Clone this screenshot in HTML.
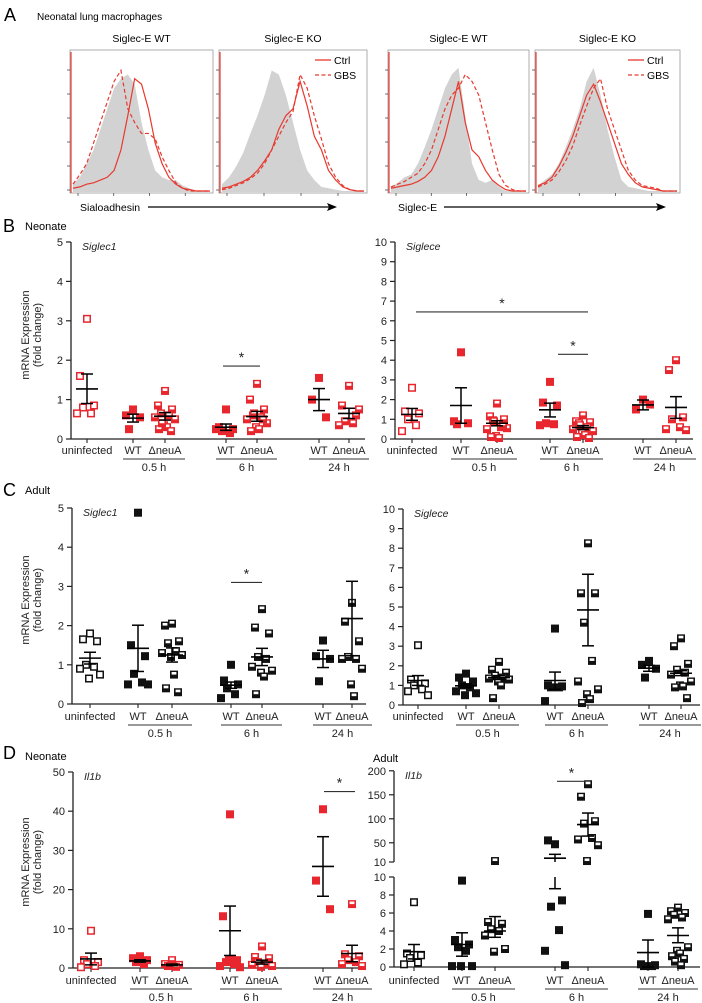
<!DOCTYPE html>
<html><head><meta charset="utf-8">
<style>
html,body{margin:0;padding:0;background:#fff;}
svg{display:block;font-family:"Liberation Sans",Arial,sans-serif;}
</style></head>
<body>
<svg id="fig" width="702" height="1003" viewBox="0 0 702 1003" xmlns="http://www.w3.org/2000/svg">
  <rect width="702" height="1003" fill="#fff"/>
  <text x="4" y="21" font-size="18">A</text>
  <text x="37" y="20" font-size="10">Neonatal lung macrophages</text>
  <text x="3" y="232" font-size="18">B</text>
  <text x="25" y="230" font-size="11">Neonate</text>
  <text x="3" y="496" font-size="18">C</text>
  <text x="25" y="494" font-size="11">Adult</text>
  <text x="3" y="759" font-size="18">D</text>
  <text x="25" y="760" font-size="11">Neonate</text>
  <text x="373" y="762" font-size="11">Adult</text>
  <g id="layer"></g>
</svg>
<script>
const histNames = ['siglec-e-wt-sialoadhesin','siglec-e-ko-sialoadhesin','siglec-e-wt-siglece','siglec-e-ko-siglece'];
const histTitles = ['Siglec-E WT','Siglec-E KO','Siglec-E WT','Siglec-E KO'];
const histGray = [
 [0.05,0.1,0.2,0.3,0.45,0.6,0.75,0.82,0.85,0.78,0.5,0.3,0.15,0.1,0.08,0.08,0.04,0.02,0,0,0],
 [0.05,0.1,0.18,0.28,0.42,0.55,0.7,0.88,0.85,0.7,0.5,0.3,0.15,0.08,0.03,0.02,0.01,0,0,0,0],
 [0.03,0.06,0.1,0.12,0.2,0.32,0.45,0.6,0.75,0.85,0.9,0.55,0.2,0.08,0.06,0.08,0.03,0,0,0,0],
 [0.04,0.08,0.12,0.2,0.32,0.45,0.6,0.8,0.9,0.7,0.45,0.25,0.08,0.03,0.02,0.01,0,0,0,0,0]];
const histCtrl = [
 [0.02,0.03,0.05,0.06,0.08,0.1,0.15,0.3,0.55,0.82,0.78,0.6,0.35,0.2,0.1,0.05,0.02,0.01,0,0,0],
 [0.02,0.03,0.05,0.07,0.1,0.15,0.22,0.3,0.45,0.55,0.6,0.8,0.62,0.4,0.3,0.15,0.08,0.03,0.01,0,0],
 [0.02,0.03,0.04,0.05,0.07,0.1,0.15,0.25,0.4,0.6,0.8,0.5,0.3,0.25,0.15,0.08,0.04,0.01,0,0,0],
 [0.04,0.06,0.1,0.18,0.28,0.4,0.55,0.7,0.78,0.65,0.5,0.35,0.2,0.12,0.06,0.03,0.02,0.01,0,0,0]];
const histGBS = [
 [0.05,0.12,0.2,0.35,0.5,0.65,0.8,0.88,0.6,0.5,0.42,0.42,0.38,0.25,0.15,0.06,0.02,0,0,0,0],
 [0.01,0.02,0.04,0.06,0.09,0.13,0.2,0.3,0.4,0.5,0.58,0.85,0.75,0.55,0.38,0.2,0.1,0.04,0.01,0,0],
 [0.03,0.05,0.07,0.1,0.13,0.2,0.3,0.45,0.6,0.7,0.75,0.85,0.8,0.7,0.5,0.3,0.12,0.04,0.01,0,0],
 [0.03,0.05,0.08,0.14,0.22,0.33,0.48,0.62,0.75,0.82,0.6,0.45,0.3,0.15,0.08,0.04,0.03,0.02,0,0,0]];

const categories = ['uninfected','WT','ΔneuA','WT','ΔneuA','WT','ΔneuA'];
const timeLabels = ['0.5 h','6 h','24 h'];

const bL_values = [[3.05,1.6,0.85,0.8,0.65,0.65],[0.75,0.6,0.55,0.25],[1.22,0.85,0.75,0.65,0.6,0.55,0.5,0.35,0.3,0.25,0.2,0.4],[0.75,0.3,0.25,0.2,0.15,0.25],[1.4,1.0,0.75,0.6,0.55,0.5,0.4,0.3,0.25,0.2,0.5,0.65],[1.55,1.0,0.55],[1.35,0.85,0.6,0.45,0.4,0.35,0.75]];
const bL_mean = [1.27,0.53,0.58,0.3,0.57,1.0,0.65];
const bL_lo = [0.9,0.43,0.48,0.22,0.45,0.72,0.52];
const bL_hi = [1.65,0.63,0.67,0.38,0.7,1.28,0.78];
const bL_ticks = [0,1,2,3,4,5];

const bR_values = [[2.6,1.4,1.3,1.0,0.7,0.4],[4.4,0.9,0.8,0.75],[1.8,1.15,1.0,0.95,0.6,0.5,0.55,0.15,0.05,0.1,0.7,0.9],[2.9,1.85,1.7,0.8,0.75,0.7],[1.2,0.9,0.85,0.8,0.6,0.5,0.4,0.3,0.2,0.1,0.05,0.7],[2.0,1.5,1.75],[4.0,3.5,1.1,1.0,0.6,0.5,0.45]];
const bR_mean = [1.25,1.7,0.8,1.48,0.58,1.73,1.6];
const bR_lo = [0.95,0.8,0.67,1.12,0.48,1.48,1.05];
const bR_hi = [1.55,2.6,0.93,1.82,0.68,1.98,2.15];
const bR_ticks = [0,1,2,3,4,5,6,7,8,9,10];

const cL_values = [[1.8,1.65,1.6,1.0,0.95,0.9,0.75,0.65],[4.88,1.5,1.22,0.77,0.55,0.5,0.5],[2.05,2.0,1.6,1.55,1.35,1.3,1.25,1.2,0.75,0.4,0.3],[1.0,0.6,0.5,0.4,0.25,0.15],[2.42,1.95,1.8,1.2,1.15,0.95,0.85,0.8,0.7,0.25],[1.62,1.22,1.15,0.58],[2.58,2.1,1.6,1.2,1.15,1.15,0.9,0.5,0.2]];
const cL_mean = [1.17,1.42,1.25,0.48,1.2,1.15,2.18];
const cL_lo = [1.02,0.83,1.07,0.4,0.98,0.93,1.23];
const cL_hi = [1.32,2.01,1.43,0.56,1.42,1.37,3.13];
const cL_ticks = [0,1,2,3,4,5];

const cR_values = [[3.05,1.3,1.1,1.0,0.8,0.7,0.5],[1.6,1.4,1.2,1.0,0.9,0.7,0.6,0.5],[2.2,1.8,1.65,1.5,1.4,1.35,1.3,1.2,1.0,0.35],[3.9,1.0,0.95,0.9,0.9,0.2],[8.25,5.7,5.7,4.2,2.25,1.2,0.8,0.55,0.3,0.1],[2.25,2.05,1.85,1.4],[3.4,3.0,2.1,1.8,1.65,1.55,1.2,1.0,0.95,0.9,0.35]];
const cR_mean = [1.25,0.98,1.4,1.25,4.85,1.88,1.62];
const cR_lo = [1.0,0.88,1.3,0.8,3.02,1.72,1.5];
const cR_hi = [1.5,1.08,1.5,1.68,6.67,2.02,1.75];
const cR_ticks = [0,1,2,3,4,5,6,7,8,9,10];

const dL_values = [[9.5,2.0,1.5,1.0,0.5,0.2],[3.0,2.5,2.0,1.5,1.0],[2.0,1.0,0.8,0.5,0.3],[39.2,13.2,2.0,1.5,1.0,0.5,0.2,2.2],[5.5,2.8,2.5,1.5,1.0,0.8,0.5,0.3],[40.5,22.3,15.0],[16.3,3.5,3.0,2.0,1.5,1.0,0.5]];
const dL_mean = [2.3,1.8,0.8,9.5,1.5,25.9,3.7];
const dL_lo = [0.8,1.5,0.6,3.2,1.0,18.3,1.6];
const dL_hi = [3.8,2.1,1.0,15.8,2.0,33.5,5.8];
const dL_ticks = [0,10,20,30,40,50];

const dR_values = [[7.2,1.5,1.3,1.0,0.5,0.3],[9.6,3.0,2.5,2.2,1.8,0.1,0.1,0.1],[12,5.0,4.8,4.2,4.0,3.5,2.0,1.7],[47,55,7.4,6.7,4.1,1.8,0.2],[172,146,95,90,60,57,45,12],[5.9,0.3,0.2,0.1,0.1],[6.6,6.2,6.0,5.8,5.5,5.3,2.2,1.8,1.5,1.2,0.9,0.6,0.2]];
const dR_mean = [1.7,2.5,4.0,18,88,1.6,3.5];
const dR_lo = [0.9,1.2,3.3,8.7,64,0,2.7];
const dR_hi = [2.5,3.8,5.6,26,112,3.0,4.35];
const dR_ticksLow = [0,2,4,6,8,10];
const dR_ticksHigh = [10,50,100,150,200];

const NS='http://www.w3.org/2000/svg';
const layer=document.getElementById('layer');
function mk(tag,attrs,parent){const e=document.createElementNS(NS,tag);for(const k in attrs)e.setAttribute(k,attrs[k]);(parent||layer).appendChild(e);return e;}
function txt(s,attrs,parent){const e=mk('text',attrs,parent);e.textContent=s;return e;}

const boxes=[[70,213],[219,367],[388,529],[535,680]];
const boxTop=50, boxBot=193;
boxes.forEach((b,i)=>{
  const g=mk('g',{});
  
  
  const x0=b[0], w=b[1]-b[0];
  const t=txt(histTitles[i],{x:x0+w/2,y:42,'font-size':10.5,'text-anchor':'middle'},g);
  
  
  const xAt=k=>x0+3+k*(w-6)/20;
  const yAt=v=>boxBot-2-v*(boxBot-boxTop-6);
  let d='M'+xAt(0)+','+(boxBot-1);
  histGray[i].forEach((v,k)=>{d+=' L'+xAt(k)+','+yAt(v);});
  d+=' L'+xAt(20)+','+(boxBot-1)+' Z';
  const gp=mk('path',{d:d,fill:'#d2d2d2',stroke:'none'},g);
  
  
  const line=(arr,dash,name)=>{
    const pts=arr.map((v,k)=>xAt(k)+','+yAt(v)).join(' ');
    const p=mk('polyline',{points:pts,fill:'none',stroke:'#e8392f','stroke-width':1.2,'stroke-dasharray':dash},g);
    
    
  };
  line(histCtrl[i],'none','ctrl-histogram');
  line(histGBS[i],'4,2.5','gbs-histogram');
  const r=mk('rect',{x:x0,y:boxTop,width:w,height:boxBot-boxTop,fill:'none',stroke:'#9a9a9a','stroke-width':0.8},g);
  
  
  mk('line',{x1:x0+1,y1:boxTop+2,x2:x0+1,y2:boxBot,stroke:'#e8392f','stroke-width':1.2},g);
  for(let k=0;k<6;k++){mk('line',{x1:x0-3,x2:x0,y1:boxBot-3-k*24,y2:boxBot-3-k*24,stroke:'#333','stroke-width':0.7},g);}
  for(let k=0;k<4;k++){mk('line',{x1:x0+8+k*w/4,x2:x0+8+k*w/4,y1:boxBot,y2:boxBot+3,stroke:'#333','stroke-width':0.7},g);}
  if(i===1||i===3){
    const lg=mk('g',{},g);
    
    
    const lx=b[1]-52;
    mk('line',{x1:lx,x2:lx+16,y1:60,y2:60,stroke:'#e8392f','stroke-width':1.3},lg);
    txt('Ctrl',{x:lx+19,y:64,'font-size':10.5},lg);
    mk('line',{x1:lx,x2:lx+16,y1:75,y2:75,stroke:'#e8392f','stroke-width':1.3,'stroke-dasharray':'4,2.5'},lg);
    txt('GBS',{x:lx+19,y:79,'font-size':10.5},lg);
  }
});
function arrow(x1,x2,y,label,lx,name){
  const g=mk('g',{});
  
  
  txt(label,{x:lx,y:y+4,'font-size':10.5},g);
  mk('line',{x1:x1,x2:x2-8,y1:y,y2:y,stroke:'#000','stroke-width':1.3},g);
  mk('path',{d:`M${x2},${y} L${x2-10},${y-4} L${x2-8},${y} L${x2-10},${y+4} Z`,fill:'#000'},g);
}
arrow(148,337,207,'Sialoadhesin',80,'sialoadhesin-axis-arrow');
arrow(444,666,207,'Siglec-E',398,'siglece-axis-arrow');

const RED='#e8262d', BLK='#111';
const markerTypes=['open','filled','half','filled','half','filled','half'];
const jit=[0,-7,7,-4,4,-10,10,-1,2,-6,6,-3,3,-9,9];

function drawPanel(cfg){
  const g=mk('g',{});
  
  
  const y=cfg.yScale, col=cfg.color;
  const ax=mk('g',{},g);
  
  
  cfg.axisSegs.forEach(s=>mk('line',{x1:cfg.axX,x2:cfg.axX,y1:s[0],y2:s[1],stroke:'#222','stroke-width':1.3},ax));
  cfg.ticks.forEach(t=>{
    const yy=y(t.v,t.seg);
    mk('line',{x1:cfg.axX-5,x2:cfg.axX,y1:yy,y2:yy,stroke:'#222','stroke-width':1.2},ax);
    const tl=txt(String(t.v),{x:cfg.axX-8,y:yy+4,'font-size':11,'text-anchor':'end',fill:'#222'},ax);
    
    
  });
  const xa=mk('line',{x1:cfg.axX,x2:cfg.xEnd,y1:cfg.y0,y2:cfg.y0,stroke:'#222','stroke-width':1.3},g);
  
  
  const gl=txt(cfg.gene,{x:cfg.axX+11,y:cfg.yTop+8,'font-size':10.5,'font-style':'italic',fill:'#222'},g);
  
  
  if(cfg.yTitle){
    const yt=txt('',{transform:`translate(${cfg.yTitleX},${cfg.yTitleY}) rotate(-90)`,'font-size':11,'text-anchor':'middle',fill:'#222'},g);
    
    
    const t1=mk('tspan',{x:0,y:0},yt);t1.textContent='mRNA Expression';
    const t2=mk('tspan',{x:0,y:12},yt);t2.textContent='(fold change)';
  }
  categories.forEach((c,i)=>{
    const xx=cfg.xs[i];
    mk('line',{x1:xx,x2:xx,y1:cfg.y0,y2:cfg.y0+4,stroke:'#222','stroke-width':1.1},g);
    const cl=txt(c,{x:xx,y:cfg.labY,'font-size':11,'text-anchor':'middle',fill:'#222'},g);
    
    
  });
  timeLabels.forEach((t,k)=>{
    const a=cfg.xs[1+2*k]-10, b=cfg.xs[2+2*k]+20;
    mk('line',{x1:a,x2:b,y1:cfg.labY+5,y2:cfg.labY+5,stroke:'#333','stroke-width':1.1},g);
    const tl=txt(t,{x:(a+b)/2,y:cfg.labY+17,'font-size':11,'text-anchor':'middle',fill:'#222'},g);
    
    
  });
  cfg.values.forEach((vals,gi)=>{
    const gg=mk('g',{},g);
    
    
    const type=markerTypes[gi];
    vals.forEach((v,k)=>{
      const cx=cfg.xs[gi]+jit[k%jit.length], cy=y(v);
      const s=8;
      if(type==='open'){
        const r=mk('rect',{x:cx-s/2+0.75,y:cy-s/2+0.75,width:s-1.5,height:s-1.5,fill:'#fff',stroke:col,'stroke-width':1.5},gg);
        
        
      } else if(type==='filled'){
        const r=mk('rect',{x:cx-s/2,y:cy-s/2,width:s,height:s,fill:col},gg);
        
        
      } else {
        const r=mk('rect',{x:cx-s/2,y:cy-s/2,width:s,height:s,fill:col},gg);
        
        
        mk('rect',{x:cx-s/2+1.6,y:cy-s/2+1.4,width:s-3.2,height:2.6,fill:'#fff'},gg);
      }
    });
  });
  cfg.mean.forEach((m,gi)=>{
    const eg=mk('g',{},g);
    
    
    const xx=cfg.xs[gi];
    const ym=y(m), yl=y(cfg.lo[gi]), yh=y(cfg.hi[gi]);
    mk('line',{x1:xx-11,x2:xx+11,y1:ym,y2:ym,stroke:'#000','stroke-width':1.6},eg);
    cfg.whisk(yl,yh,cfg.lo[gi],cfg.hi[gi]).forEach(s=>mk('line',{x1:xx,x2:xx,y1:s[0],y2:s[1],stroke:'#000','stroke-width':1.5},eg));
    mk('line',{x1:xx-6,x2:xx+6,y1:yl,y2:yl,stroke:'#000','stroke-width':1.5},eg);
    mk('line',{x1:xx-6,x2:xx+6,y1:yh,y2:yh,stroke:'#000','stroke-width':1.5},eg);
  });
  cfg.sig.forEach(s=>{
    const sg=mk('g',{},g);
    
    
    mk('line',{x1:s.x1,x2:s.x2,y1:s.y,y2:s.y,stroke:'#333','stroke-width':1.1},sg);
    txt('*',{x:(s.x1+s.x2)/2,y:s.y-4,'font-size':14,'text-anchor':'middle',fill:'#222'},sg);
  });
}
function lin(y0,yTop,vMax){return v=>y0-(v/vMax)*(y0-yTop);}
const plainWhisk=(yl,yh)=>[[yl,yh]];
function simpleTicks(arr){return arr.map(v=>({v:v}));}

(function(){const xs=[87,133,165,226,257,319,349];const y=lin(439,242,5);
drawPanel({name:'panel-b-siglec1-neonate',color:RED,axX:71,y0:439,yTop:242,xEnd:365,xs:xs,yScale:y,axisSegs:[[242,439]],ticks:simpleTicks(bL_ticks),gene:'Siglec1',yTitle:true,yTitleX:29,yTitleY:335,labY:454,values:bL_values,mean:bL_mean,lo:bL_lo,hi:bL_hi,whisk:plainWhisk,sig:[{x1:xs[3]-3,x2:xs[4]+3,y:y(1.85)}]});})();
(function(){const xs=[412,461,497,550,583,643,676];const y=lin(439,242,10);
drawPanel({name:'panel-b-siglece-neonate',color:RED,axX:395,y0:439,yTop:242,xEnd:693,xs:xs,yScale:y,axisSegs:[[242,439]],ticks:simpleTicks(bR_ticks),gene:'Siglece',yTitle:false,labY:454,values:bR_values,mean:bR_mean,lo:bR_lo,hi:bR_hi,whisk:plainWhisk,sig:[{x1:xs[0]+4,x2:xs[4]+5,y:y(6.45)},{x1:xs[3]+8,x2:xs[4]+5,y:y(4.3)}]});})();
(function(){const xs=[90,138,172,231,262,323,352];const y=lin(704,508,5);
drawPanel({name:'panel-c-siglec1-adult',color:BLK,axX:72,y0:704,yTop:508,xEnd:366,xs:xs,yScale:y,axisSegs:[[508,704]],ticks:simpleTicks(cL_ticks),gene:'Siglec1',yTitle:true,yTitleX:29,yTitleY:600,labY:720,values:cL_values,mean:cL_mean,lo:cL_lo,hi:cL_hi,whisk:plainWhisk,sig:[{x1:xs[3],x2:xs[4],y:y(3.1)}]});})();
(function(){const xs=[418,466,499,555,588,649,681];const y=lin(705,509,10);
drawPanel({name:'panel-c-siglece-adult',color:BLK,axX:403,y0:705,yTop:509,xEnd:700,xs:xs,yScale:y,axisSegs:[[509,705]],ticks:simpleTicks(cR_ticks),gene:'Siglece',yTitle:false,labY:720,values:cR_values,mean:cR_mean,lo:cR_lo,hi:cR_hi,whisk:plainWhisk,sig:[]});})();
(function(){const xs=[91,140,172,230,262,323,352];const y=lin(968,772,50);
drawPanel({name:'panel-d-il1b-neonate',color:RED,axX:73,y0:968,yTop:772,xEnd:366,xs:xs,yScale:y,axisSegs:[[772,968]],ticks:simpleTicks(dL_ticks),gene:'Il1b',yTitle:true,yTitleX:29,yTitleY:862,labY:984,values:dL_values,mean:dL_mean,lo:dL_lo,hi:dL_hi,whisk:plainWhisk,sig:[{x1:xs[5]+1,x2:xs[6]+3,y:y(45)}]});})();
(function(){const xs=[414,462,495,555,588,648,678];
const y=(v,seg)=>{ if(seg==='high'||(seg===undefined&&v>10)) return 862-(v-10)*0.48; return 967-v*9; };
const ticks=dR_ticksLow.map(v=>({v:v,seg:'low'})).concat(dR_ticksHigh.map(v=>({v:v,seg:'high'})));
const whisk=(yl,yh,lo,hi)=>{ if(lo<=10&&hi>10) return [[yl,877],[862,yh]]; return [[yl,yh]]; };
drawPanel({name:'panel-d-il1b-adult',color:BLK,axX:394,y0:967,yTop:771,xEnd:700,xs:xs,yScale:y,axisSegs:[[771,862],[877,967]],ticks:ticks,gene:'Il1b',yTitle:false,labY:984,values:dR_values,mean:dR_mean,lo:dR_lo,hi:dR_hi,whisk:whisk,sig:[{x1:xs[3]+2,x2:xs[4]-2,y:y(178)}]});})();
</script>
</body></html>
